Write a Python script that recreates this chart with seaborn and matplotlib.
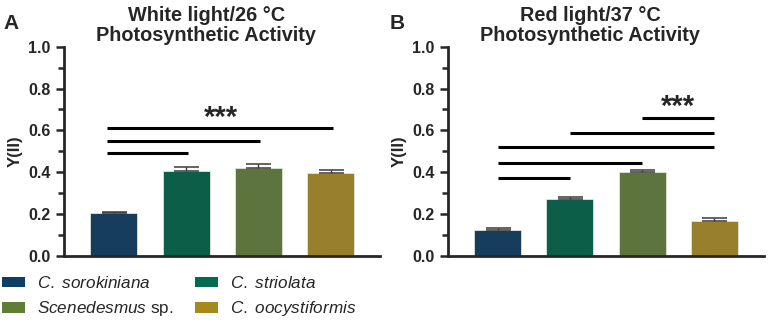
import numpy as np
import pandas as pd
import matplotlib
matplotlib.use("Agg")
from matplotlib import pyplot as plt
from matplotlib.patches import Patch
import seaborn as sns

sns.set_style("ticks")
plt.rcParams['font.family'] = ['Liberation Sans', 'DejaVu Sans']
plt.rcParams['mathtext.fontset'] = 'custom'
plt.rcParams['mathtext.it'] = 'Liberation Sans:italic'
plt.rcParams['mathtext.rm'] = 'Liberation Sans'

# data
species = ['C. sorokiniana', 'C. striolata', 'Scenedesmus sp.', 'C. oocystiformis']
legend_labels = [r'$\it{C.\ sorokiniana}$', r'$\it{C.\ striolata}$',
                 r'$\it{Scenedesmus}$ sp.', r'$\it{C.\ oocystiformis}$']
colors = ['#0B3F66', '#006B50', '#5E7D36', '#A8881C']

white_mean = [0.203, 0.407, 0.421, 0.397]
white_sd = [0.007, 0.019, 0.016, 0.014]
red_mean = [0.123, 0.270, 0.400, 0.166]
red_sd = [0.011, 0.012, 0.008, 0.014]

# significance bars: (start, end, height)
white_sig = [(0, 1, 0.49), (0, 2, 0.549), (0, 3, 0.612)]
white_star = (1.48, 0.66)
red_sig = [(0, 1, 0.373), (0, 2, 0.445), (0, 3, 0.519), (1, 3, 0.589), (2, 3, 0.66)]
red_star = (2.5, 0.71)

titles = ['White light/26 °C\nPhotosynthetic Activity', 'Red light/37 °C\nPhotosynthetic Activity']

fig = plt.figure(figsize=(7.68, 3.2), dpi=100)
axA = fig.add_axes([0.0833, 0.201, 0.412, 0.653])
axB = fig.add_axes([0.583, 0.201, 0.412, 0.653])

panels = [(axA, white_mean, white_sd, white_sig, white_star, 0.09),
          (axB, red_mean, red_sd, red_sig, red_star, 0.0)]

for i, (ax, mean, sd, sig, star, ext) in enumerate(panels):
    df = pd.DataFrame({'species': species, 'val': mean})
    sns.barplot(data=df, x='species', y='val', hue='species', palette=colors,
                width=0.65, ax=ax, legend=False, edgecolor='#dfe6d8', linewidth=0.6)
    ax.errorbar(np.arange(4), mean, yerr=[np.zeros(4), sd], fmt='none',
                ecolor='#3a3a3a', elinewidth=1.0, capsize=9, capthick=1.1, zorder=3)
    for a, b, h in sig:
        ax.plot([a - ext, b + 0.03 * (ext > 0)], [h, h], color='black', lw=2.2, solid_capstyle='butt')
    ax.text(star[0], star[1], '***', ha='center', va='center', fontsize=21, fontweight='bold')

    ax.set_xlim(-0.69, 3.69)
    ax.set_ylim(0, 1.0)
    ax.set_yticks(np.arange(0, 1.01, 0.2))
    ax.set_yticks(np.arange(0.1, 1.0, 0.2), minor=True)
    ax.set_yticklabels(['0.0', '0.2', '0.4', '0.6', '0.8', '1.0'], fontweight='bold', fontsize=11.5)
    ax.set_xticks([])
    ax.set_xlabel('')
    ax.set_ylabel('Y(II)', fontweight='bold', fontsize=12, labelpad=4)
    ax.tick_params(axis='y', which='major', length=6, width=1.8, direction='out')
    ax.tick_params(axis='y', which='minor', length=4, width=1.8, direction='out')
    for s in ['left', 'bottom']:
        ax.spines[s].set_linewidth(2)
    sns.despine(ax=ax)
    ax.set_title(titles[i], fontweight='bold', fontsize=14.3, x=0.45, pad=4, linespacing=1.05)

fig.text(0.004, 0.955, 'A', fontweight='bold', fontsize=15, va='top')
fig.text(0.507, 0.955, 'B', fontweight='bold', fontsize=15, va='top')

order = [0, 2, 1, 3]
handles = [Patch(facecolor=colors[k], edgecolor='none') for k in order]
fig.legend(handles, [legend_labels[k] for k in order], ncol=2, loc='lower left',
           bbox_to_anchor=(-0.008, -0.022), frameon=False, fontsize=12.3, borderpad=0,
           handlelength=1.3, handleheight=0.55, columnspacing=1.3,
           handletextpad=0.7, labelspacing=0.5)

fig.savefig('out.png', dpi=100)
